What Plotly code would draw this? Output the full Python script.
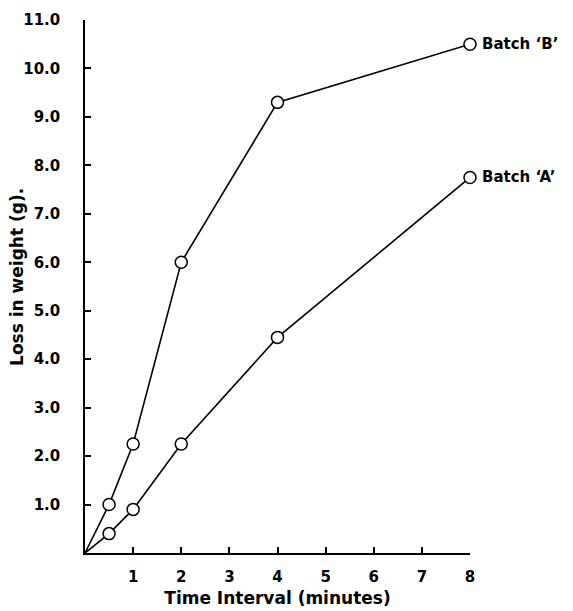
import plotly.graph_objects as go

time_b = [0, 0.5, 1, 2, 4, 8]
loss_b = [0, 1.0, 2.25, 6.0, 9.3, 10.5]
time_a = [0, 0.5, 1, 2, 4, 8]
loss_a = [0, 0.4, 0.9, 2.25, 4.45, 7.75]
x_ticks = [1, 2, 3, 4, 5, 6, 7, 8]
y_ticks = [1, 2, 3, 4, 5, 6, 7, 8, 9, 10, 11]

FONT = "DejaVu Sans"
FS = 15
TFS = 17
series = [(time_b, loss_b, "Batch ‘B’"), (time_a, loss_a, "Batch ‘A’")]
fig = go.Figure()
for xs, ys, name in series:
    fig.add_trace(go.Scatter(
        x=xs, y=ys, mode="lines", cliponaxis=False,
        line=dict(color="black", width=1.6), showlegend=False, hoverinfo="skip"))
for xs, ys, name in series:
    fig.add_trace(go.Scatter(
        x=xs[1:], y=ys[1:], mode="markers", name=name, cliponaxis=False,
        marker=dict(size=12, color="#ffffff", opacity=1,
                    line=dict(color="black", width=1.5)),
        showlegend=False))
    fig.add_annotation(x=xs[-1], y=ys[-1], text=name, showarrow=False,
                       xanchor="left", yanchor="middle", xshift=10,
                       font=dict(family=FONT, size=FS, color="black", weight="bold"))

fig.add_annotation(x=0, y=0.518, xref="paper", yref="paper", xshift=-68,
                   text="Loss in weight (g).", textangle=-90, showarrow=False,
                   xanchor="center", yanchor="middle",
                   font=dict(family=FONT, size=TFS, color="black", weight="bold"))

fig.update_layout(
    width=565, height=603,
    margin=dict(l=77, r=103, t=12, b=58),
    paper_bgcolor="white", plot_bgcolor="white",
    font=dict(family=FONT, color="black"),
    xaxis=dict(range=[0, 8], tickvals=x_ticks, ticktext=[str(v) for v in x_ticks],
               automargin=False,
               showgrid=False, zeroline=False, showline=True, linecolor="black",
               linewidth=1.5, ticks="inside", ticklen=6, tickwidth=1.5, tickcolor="black",
               ticklabelstandoff=9,
               tickfont=dict(family=FONT, size=FS, weight="bold"),
               title=dict(text="Time Interval (minutes)", standoff=7,
                          font=dict(family=FONT, size=TFS, weight="bold"))),
    yaxis=dict(range=[0, 11], tickvals=y_ticks, ticktext=[f"{v:.1f}" for v in y_ticks],
               automargin=False,
               showgrid=False, zeroline=False, showline=True, linecolor="black",
               linewidth=1.5, ticks="inside", ticklen=6, tickwidth=1.5, tickcolor="black",
               ticklabelstandoff=20,
               tickfont=dict(family=FONT, size=FS, weight="bold")),
)
fig.write_html("out.html")
